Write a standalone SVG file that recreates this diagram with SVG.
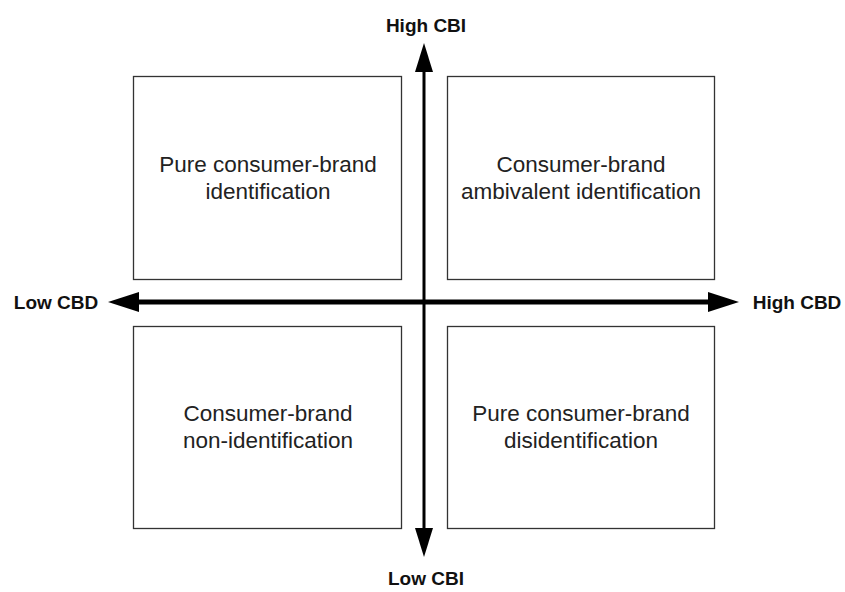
<svg xmlns="http://www.w3.org/2000/svg" width="845" height="592" viewBox="0 0 845 592">
<style>
.box{fill:#fff;stroke:#333;stroke-width:1.3}
.t{font-family:"Liberation Sans",Arial,sans-serif;font-size:22.5px;fill:#222;text-anchor:middle}
.ax{font-family:"Liberation Sans",Arial,sans-serif;font-size:19px;font-weight:bold;fill:#111;text-anchor:middle}
.ln{stroke:#000;fill:none}
</style>
<rect width="845" height="592" fill="#fff"/>
<g id="q1"><rect class="box" x="133.5" y="76.5" width="268" height="203"/>
<text class="t" x="268" y="172">Pure consumer-brand</text><text class="t" x="268" y="199">identification</text></g>
<g id="q2"><rect class="box" x="447.5" y="76.5" width="267" height="203"/>
<text class="t" x="581" y="172">Consumer-brand</text><text class="t" x="581" y="199">ambivalent identification</text></g>
<g id="q3"><rect class="box" x="133.5" y="326.5" width="268" height="202"/>
<text class="t" x="268" y="421">Consumer-brand</text><text class="t" x="268" y="448">non-identification</text></g>
<g id="q4"><rect class="box" x="447.5" y="326.5" width="267" height="202"/>
<text class="t" x="581" y="421">Pure consumer-brand</text><text class="t" x="581" y="448">disidentification</text></g>
<g id="connectors">
<line class="ln" x1="424" y1="70" x2="424" y2="530" stroke-width="3"/>
<polygon points="424,43 415,72 433,72" fill="#000"/>
<polygon points="424,557 415,528 433,528" fill="#000"/>
<line class="ln" x1="135" y1="302" x2="712" y2="302" stroke-width="5"/>
<polygon points="108,302 139,292 139,312" fill="#000"/>
<polygon points="739,302 708,292 708,312" fill="#000"/>
</g>
<g id="labels">
<text class="ax" x="426" y="32">High CBI</text>
<text class="ax" x="426" y="585">Low CBI</text>
<text class="ax" x="56" y="309">Low CBD</text>
<text class="ax" x="797" y="309">High CBD</text>
</g>
</svg>
